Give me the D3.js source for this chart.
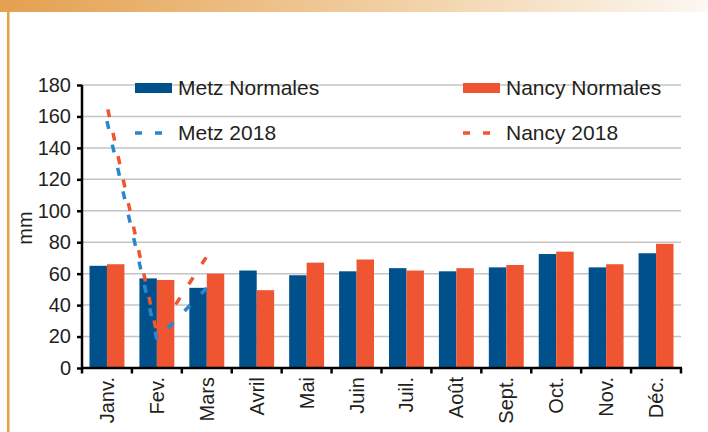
<!DOCTYPE html>
<html>
<head>
<meta charset="utf-8">
<script src="https://cdn.jsdelivr.net/npm/d3@7"></script>
<style>
  html, body { margin: 0; padding: 0; background: #fdfdfd; }
  svg { display: block; font-family: "Liberation Sans", Arial, sans-serif; }
</style>
</head>
<body>
<div id="chart"></div>
<script>
// Précipitations mensuelles (mm)
const months = ['Janv.', 'Fev.', 'Mars', 'Avril', 'Mai', 'Juin', 'Juil.', 'Août', 'Sept.', 'Oct.', 'Nov.', 'Déc.'];
const metzNormales  = [65, 57, 51, 62, 59, 61.5, 63.5, 61.5, 64, 72.5, 64, 73];
const nancyNormales = [66, 56, 60, 49.5, 67, 69, 62, 63.5, 65.5, 74, 66, 79];
const metz2018  = [157, 18, 51];   // Janv. -> Mars
const nancy2018 = [167, 22, 71];
const yTicks = [0, 20, 40, 60, 80, 100, 120, 140, 160, 180];

const W = 708, H = 432;
const m = { left: 82, right: 681, top: 85, bottom: 368 };

const C = {
  metz: '#00508c',
  nancy: '#f05532',
  metzLine: '#2b87cc',
  nancyLine: '#f05532',
  grid: '#c4c4c4',
  text: '#231f20'
};

const svg = d3.select('#chart').append('svg')
  .attr('width', W)
  .attr('height', H);

// page decoration: gradient banner + left rule
const defs = svg.append('defs');
const grad = defs.append('linearGradient').attr('id', 'banner');
grad.append('stop').attr('offset', '0%').attr('stop-color', '#e4a050');
grad.append('stop').attr('offset', '55%').attr('stop-color', '#f1cfa2');
grad.append('stop').attr('offset', '100%').attr('stop-color', '#fcf8f3');
svg.append('rect').attr('x', 0).attr('y', 0).attr('width', W).attr('height', 12).attr('fill', 'url(#banner)');
svg.append('rect').attr('x', 7).attr('y', 12).attr('width', 2.5).attr('height', H - 12).attr('fill', '#eba043');

svg.append('rect')
  .attr('x', 14).attr('y', 12).attr('width', W - 14).attr('height', H - 12)
  .attr('fill', '#ffffff');

// scales
const x = d3.scaleBand().domain(months).range([m.left, m.right]).padding(0);
const bw = x.bandwidth();
const series = ['metz', 'nancy'];
const xs = d3.scaleBand().domain(series).range([7.5, bw - 7.5]).padding(0);
const y = d3.scaleLinear().domain([0, 180]).range([m.bottom, m.top]);

// gridlines
svg.append('g')
  .selectAll('line')
  .data(yTicks.filter(d => d > 0))
  .join('line')
  .attr('x1', m.left).attr('x2', m.right)
  .attr('y1', d => y(d)).attr('y2', d => y(d))
  .attr('stroke', C.grid)
  .attr('stroke-width', 1.5);

// bars
const rows = months.map((mo, i) => ({ month: mo, metz: metzNormales[i], nancy: nancyNormales[i] }));
const groups = svg.append('g')
  .selectAll('g')
  .data(rows)
  .join('g')
  .attr('transform', d => `translate(${x(d.month)},0)`);

groups.selectAll('rect')
  .data(d => series.map(k => ({ key: k, value: d[k] })))
  .join('rect')
  .attr('x', d => xs(d.key))
  .attr('width', xs.bandwidth())
  .attr('y', d => y(d.value))
  .attr('height', d => y(0) - y(d.value))
  .attr('fill', d => C[d.key]);

// 2018 dashed lines
const line = d3.line()
  .x((d, i) => x(months[i]) + bw / 2)
  .y(d => y(d));

svg.append('path')
  .datum(metz2018)
  .attr('d', line)
  .attr('fill', 'none')
  .attr('stroke', C.metzLine)
  .attr('stroke-width', 3.5)
  .attr('stroke-dasharray', '8,16');

svg.append('path')
  .datum(nancy2018)
  .attr('d', line)
  .attr('fill', 'none')
  .attr('stroke', C.nancyLine)
  .attr('stroke-width', 3.5)
  .attr('stroke-dasharray', '8,16')
  .attr('stroke-dashoffset', -4);

// axes
const yAxis = svg.append('g')
  .attr('transform', `translate(${m.left},0)`)
  .call(d3.axisLeft(y).tickValues(yTicks).tickSize(5).tickPadding(6));
yAxis.select('.domain').attr('stroke', '#000').attr('stroke-width', 2.5)
  .attr('d', `M0,${m.top}V${m.bottom}`);
yAxis.selectAll('.tick line').attr('stroke', '#000').attr('stroke-width', 2.5);
yAxis.selectAll('.tick text')
  .attr('fill', C.text)
  .attr('font-size', 20)
  .attr('font-family', '"Liberation Sans", Arial, sans-serif');

const xAxis = svg.append('g')
  .attr('transform', `translate(0,${m.bottom})`);
xAxis.append('line')
  .attr('x1', m.left - 1).attr('x2', m.right + 1)
  .attr('stroke', '#000').attr('stroke-width', 2.5);
xAxis.selectAll('.tk')
  .data(months.map(d => x(d)).concat([m.right]))
  .join('line')
  .attr('class', 'tk')
  .attr('x1', d => d).attr('x2', d => d)
  .attr('y1', 0).attr('y2', 5.5)
  .attr('stroke', '#000').attr('stroke-width', 2.5);
xAxis.selectAll('text')
  .data(months)
  .join('text')
  .attr('transform', d => `translate(${x(d) + bw / 2},9) rotate(-90)`)
  .attr('text-anchor', 'end')
  .attr('dy', '0.35em')
  .attr('fill', C.text)
  .attr('font-size', 20)
  .text(d => d);

// y title
svg.append('text')
  .attr('transform', 'translate(25,228) rotate(-90)')
  .attr('text-anchor', 'middle')
  .attr('dy', '0.35em')
  .attr('fill', C.text)
  .attr('font-size', 20)
  .text('mm');

// legend
const legend = svg.append('g');
const legendItems = [
  { label: 'Metz Normales', color: C.metz, type: 'bar', x: 135, y: 88 },
  { label: 'Nancy Normales', color: C.nancy, type: 'bar', x: 463, y: 88 },
  { label: 'Metz 2018', color: C.metzLine, type: 'dash', x: 135, y: 133 },
  { label: 'Nancy 2018', color: C.nancyLine, type: 'dash', x: 463, y: 133 }
];
legendItems.forEach(it => {
  if (it.type === 'bar') {
    legend.append('rect')
      .attr('x', it.x).attr('y', it.y - 5)
      .attr('width', 37).attr('height', 10)
      .attr('fill', it.color);
  } else {
    legend.append('line')
      .attr('x1', it.x).attr('x2', it.x + 28)
      .attr('y1', it.y).attr('y2', it.y)
      .attr('stroke', it.color)
      .attr('stroke-width', 3.5)
      .attr('stroke-dasharray', '7,13');
  }
  legend.append('text')
    .attr('x', it.x + 43)
    .attr('y', it.y)
    .attr('dy', '0.35em')
    .attr('fill', C.text)
    .attr('font-size', 21)
    .text(it.label);
});
</script>
</body>
</html>
